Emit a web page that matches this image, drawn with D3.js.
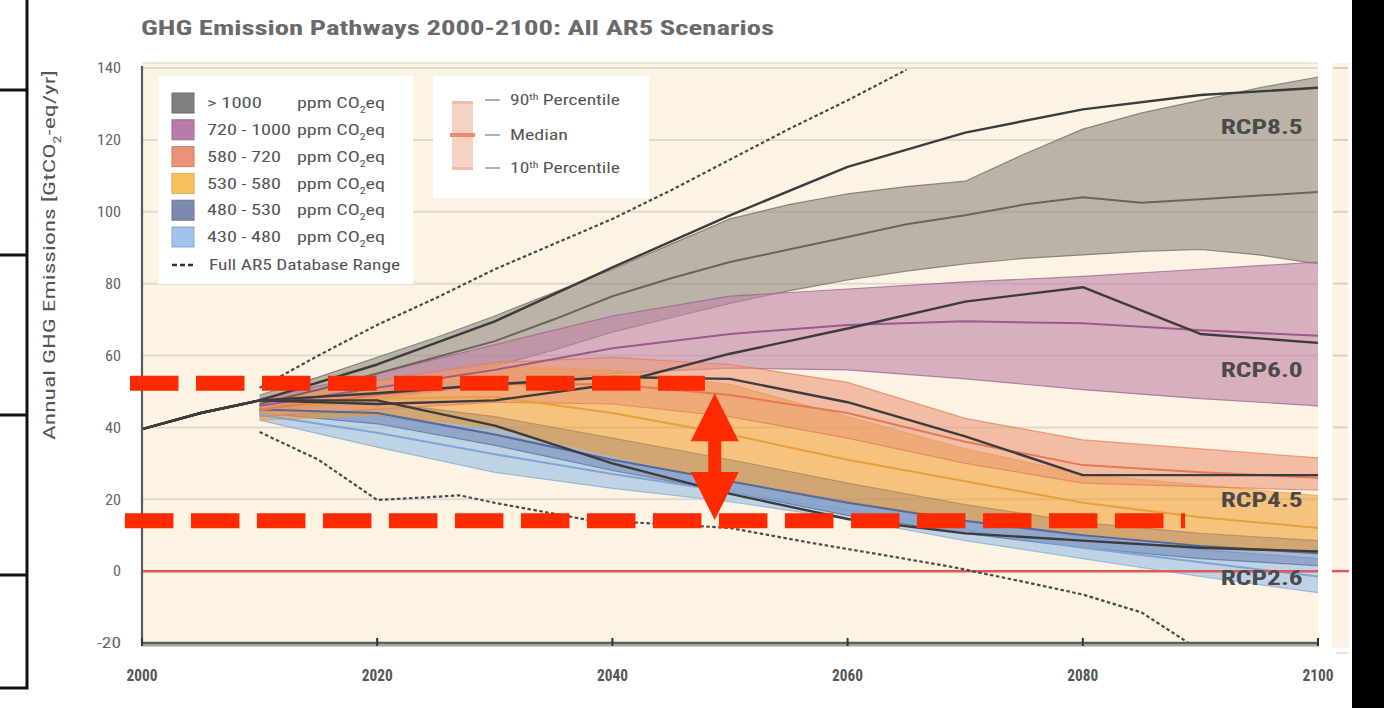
<!DOCTYPE html>
<html><head><meta charset="utf-8">
<script src="https://cdn.jsdelivr.net/npm/d3@7"></script>
<style>
body{margin:0;background:#fff}
svg{display:block}
text{font-family:"Liberation Sans Narrow","Roboto Condensed","Open Sans","Liberation Sans",sans-serif}
</style>
</head><body>
<svg id="c" width="1384" height="708"></svg>
<script>
// ---------- data ----------
const title = "GHG Emission Pathways 2000-2100: All AR5 Scenarios";
const yTicks = [-20, 0, 20, 40, 60, 80, 100, 120, 140];
const xTicks = [2000, 2020, 2040, 2060, 2080, 2100];

const rcpYears = [2000, 2005, 2010, 2020, 2030, 2040, 2050, 2060, 2070, 2080, 2090, 2100];
const rcp85 = [39.5, 44, 47.5, 57.5, 69.5, 84.5, 99, 112.5, 122, 128.5, 132.5, 134.5];
const rcp60 = [39.5, 44, 47.5, 46.5, 47.5, 52, 60.5, 67.5, 75, 79, 66, 63.5];
const rcp45 = [39.5, 44, 47.5, 49.5, 52, 54, 53.5, 47, 37.5, 26.7, 26.7, 26.7];
const rcp26 = [39.5, 44, 47.5, 47.5, 40.5, 30, 21.5, 14.5, 10.5, 8.5, 6.5, 5.5];
const rcpNames = ["RCP8.5", "RCP6.0", "RCP4.5", "RCP2.6"];
const rcpLabelValues = [123.5, 55.9, 19.8, -1.9];

const grayYears = [2010,2015,2020,2025,2030,2035,2040,2045,2050,2055,2060,2065,2070,2075,2080,2085,2090,2095,2100];
const grayP90 = [49,54,59.5,65,71,77.5,84,91,98,102,105,107,108.5,116,123,127.5,131,134.5,137.5];
const grayMed = [46.5,50.5,55,59.5,64,70,76.5,81.5,86,89.5,93,96.5,99,102,104,102.5,103.5,104.5,105.5];
const grayP10 = [44,46.5,49.5,53,57,61.5,66.5,70.5,74.5,78,81,83.5,85.5,87,88,89,89.5,88,85.5];

const decYears = [2010,2020,2030,2040,2050,2060,2070,2080,2090,2100];
const pinkP90 = [48,55,63,71,76.5,78.5,80.5,82,84,86];
const pinkMed = [46,51,56,62,66,68.5,69.5,69,67,65.5];
const pinkP10 = [44,48,52,55,56.5,56,53.5,50.5,48,46];

const salmonP90 = [47.5,53,58,59.5,57.5,52.5,42.5,36.5,34,31.5];
const salmonMed = [45,49,52,52,49,44,36,29.5,27.5,26];
const salmonP10 = [43,45,47,46.5,43,37,30,24.5,23.5,22.5];

const orangeP90 = [47,52,57,56,52,43,34,27,24,21];
const orangeMed = [45,48,48.5,44,38,31,25,19,15,12];
const orangeP10 = [42,43.5,40,32,25,19,14.5,10.5,7.5,5.5];

const slateP90 = [46,47,43,37,31,24.5,18.5,13.5,10.5,8.5];
const slateMed = [45,44,38,31,25,19,14,10,7,5];
const slateP10 = [44,41,35,28,22,15.5,10.5,6.5,3.5,1.5];

const blueP90 = [45,43.5,38,31,25,19.5,14,9.5,6,3.5];
const blueMed = [43.5,38.5,32.5,27,22,17,11.5,6.5,2.5,-1.5];
const blueP10 = [42,34.5,27.5,23,19.3,14.5,8.5,3.5,-1.5,-6];

const dbUpperYears = [2010,2015,2020,2025,2030,2035,2040,2045,2050,2055,2060,2065];
const dbUpper = [51,60,68.5,76,84,91,98,106,114.5,123,131,139.5];
const dbLowerYears = [2010,2015,2020,2024,2027,2030,2035,2038,2045,2050,2057,2063,2069,2075,2080,2085,2089];
const dbLower = [38.7,31,19.8,20.5,21.1,19,16,14.2,13,12,7.8,4.5,1.1,-3,-6.5,-11.5,-20];

const legendRanges = ["> 1000", "720 - 1000", "580 - 720", "530 - 580", "480 - 530", "430 - 480"];
const legendRangeWidths = [55, 84, 74, 74, 74, 74];
const legendSwatch = ["#7f7f7f", "#b97aae", "#ec9276", "#f7c25e", "#7c89b0", "#9fc3ea"];
const bandFill = ["#8d897f", "#c185aa", "#eb9978", "#ee9a2a", "#6a84b4", "#96bee8"];
const bandOpacity = [0.6, 0.62, 0.6, 0.55, 0.55, 0.6];
const bandLine = ["#6a655c", "#9a5a8c", "#e27a58", "#e8a03a", "#56699a", "#7fa6d2"];
const drawOrder = [0, 1, 5, 4, 3, 2];
const pctLabels = ["90", "Median", "10"];

// annotation (red) values
const annoLines = [{v: 52.3, from: 1998.98, to: 2047.87}, {v: 14.0, from: 1998.55, to: 2088.7}];
const annoArrow = {year: 2048.7, top: 49.5, bottom: 14.2};

// ---------- drawing ----------
const svg = d3.select("#c");
const x = d3.scaleLinear().domain([2000, 2100]).range([142, 1318]);
const y = d3.scaleLinear().domain([-20, 140]).range([643, 68]);

// left decorative frame
const deco = svg.append("g").attr("stroke", "#111").attr("stroke-width", 3).attr("fill", "none");
deco.append("path").attr("d", "M27,0 V688 H0");
[90, 255, 415, 575].forEach(t => deco.append("line").attr("x1", 0).attr("x2", 27).attr("y1", t).attr("y2", t));

// title
svg.append("text").attr("x", 141).attr("y", 35).attr("font-size", 21).attr("font-weight", "bold")
  .attr("fill", "#6a6a6a").attr("textLength", 633).attr("lengthAdjust", "spacingAndGlyphs").text(title);

// plot background
svg.append("rect").attr("x", x(2000)).attr("y", 63).attr("width", x(2100) - x(2000)).attr("height", y(-20) - 63)
  .attr("fill", "#fdf3e2");
svg.append("line").attr("x1", x(2000)).attr("x2", x(2100)).attr("y1", 63).attr("y2", 63).attr("stroke", "#ece8e0").attr("stroke-width", 2);

// right strip (neighbour panel) and black block
svg.append("rect").attr("x", 1332).attr("y", 63).attr("width", 17).attr("height", 585).attr("fill", "#fdf3e2");
yTicks.filter(d => d > -20 && d !== 0).forEach(d => svg.append("line").attr("x1", 1333).attr("x2", 1348)
  .attr("y1", y(d)).attr("y2", y(d)).attr("stroke", "#d6d0c6").attr("stroke-width", 2));
svg.append("line").attr("x1", 1332).attr("x2", 1349).attr("y1", y(0)).attr("y2", y(0)).attr("stroke", "#e05a5a").attr("stroke-width", 2.5);
svg.append("line").attr("x1", 1336).attr("x2", 1348).attr("y1", 653).attr("y2", 653).attr("stroke", "#c8c8d0").attr("stroke-width", 1);
svg.append("rect").attr("x", 1352).attr("y", 0).attr("width", 32).attr("height", 708).attr("fill", "#000");

// clip
svg.append("clipPath").attr("id", "pc").append("rect").attr("x", x(2000)).attr("y", 63)
  .attr("width", x(2100) - x(2000)).attr("height", y(-20) - 63);
const plot = svg.append("g").attr("clip-path", "url(#pc)");

// gridlines
plot.selectAll(".grid").data(yTicks.filter(d => d > -20 && d !== 0)).join("line")
  .attr("x1", x(2000)).attr("x2", x(2100)).attr("y1", d => y(d)).attr("y2", d => y(d))
  .attr("stroke", "#e0dace").attr("stroke-width", 2);

// bands
const bands = [
  {years: grayYears, p10: grayP10, med: grayMed, p90: grayP90},
  {years: decYears, p10: pinkP10, med: pinkMed, p90: pinkP90},
  {years: decYears, p10: salmonP10, med: salmonMed, p90: salmonP90},
  {years: decYears, p10: orangeP10, med: orangeMed, p90: orangeP90},
  {years: decYears, p10: slateP10, med: slateMed, p90: slateP90},
  {years: decYears, p10: blueP10, med: blueMed, p90: blueP90}
];
const area = d3.area().x(d => x(d.t)).y0(d => y(d.lo)).y1(d => y(d.hi));
const line = d3.line().x(d => x(d.t)).y(d => y(d.v));
drawOrder.forEach(i => {
  const b = bands[i];
  const pts = b.years.map((t, k) => ({t, lo: b.p10[k], hi: b.p90[k]}));
  plot.append("path").attr("d", area(pts)).attr("fill", bandFill[i]).attr("fill-opacity", bandOpacity[i]);
  ["p10", "p90"].forEach(key => {
    plot.append("path").attr("d", line(b.years.map((t, k) => ({t, v: b[key][k]}))))
      .attr("fill", "none").attr("stroke", bandLine[i]).attr("stroke-opacity", 0.7).attr("stroke-width", 1.2);
  });
});
drawOrder.forEach(i => {
  const b = bands[i];
  plot.append("path").attr("d", line(b.years.map((t, k) => ({t, v: b.med[k]}))))
    .attr("fill", "none").attr("stroke", bandLine[i]).attr("stroke-width", 2);
});

// zero line
plot.append("line").attr("x1", x(2000)).attr("x2", x(2100)).attr("y1", y(0)).attr("y2", y(0))
  .attr("stroke", "#e05a5a").attr("stroke-width", 2.5);

// database range
[[dbUpperYears, dbUpper], [dbLowerYears, dbLower]].forEach(([ys, vs]) => {
  plot.append("path").attr("d", line(ys.map((t, k) => ({t, v: vs[k]}))))
    .attr("fill", "none").attr("stroke", "#4a4a4a").attr("stroke-width", 2.2).attr("stroke-dasharray", "3.5 2.5");
});

// RCP lines
[rcp85, rcp60, rcp45, rcp26].forEach(vs => {
  plot.append("path").attr("d", line(rcpYears.map((t, k) => ({t, v: vs[k]}))))
    .attr("fill", "none").attr("stroke", "#3c3c3c").attr("stroke-width", 2.4).attr("stroke-linejoin", "round");
});

// RCP labels
rcpNames.forEach((n, i) => {
  svg.append("text").attr("x", x(2098.7)).attr("y", y(rcpLabelValues[i])).attr("dy", "0.36em")
    .attr("text-anchor", "end").attr("font-size", 20).attr("font-weight", "bold").attr("fill", "#4a4a4a")
    .attr("textLength", 82).attr("lengthAdjust", "spacingAndGlyphs").text(n);
});

// axes
svg.append("line").attr("x1", x(2000)).attr("x2", x(2000)).attr("y1", 66).attr("y2", y(-20))
  .attr("stroke", "#5a5a5a").attr("stroke-width", 2.2);
svg.append("line").attr("x1", x(2000)).attr("x2", x(2100)).attr("y1", y(-20) + 1).attr("y2", y(-20) + 1)
  .attr("stroke", "#a8a39a").attr("stroke-width", 5);
svg.append("line").attr("x1", x(2000)).attr("x2", x(2100)).attr("y1", y(-20)).attr("y2", y(-20))
  .attr("stroke", "#5c5c5c").attr("stroke-width", 2);
xTicks.forEach(t => svg.append("line").attr("x1", x(t)).attr("x2", x(t)).attr("y1", y(-20) - 5).attr("y2", y(-20) + 3)
  .attr("stroke", "#333").attr("stroke-width", 2));
svg.selectAll(".xl").data(xTicks).join("text").attr("x", d => x(d)).attr("y", 681).attr("text-anchor", "middle")
  .attr("font-size", 17).attr("font-weight", "bold").attr("fill", "#555")
  .attr("textLength", 31).attr("lengthAdjust", "spacingAndGlyphs").text(d => d);
svg.selectAll(".yl").data(yTicks).join("text").attr("x", 121).attr("y", d => y(d)).attr("dy", "0.35em")
  .attr("text-anchor", "end").attr("font-size", 15).attr("fill", "#666")
  .attr("textLength", d => String(d).length * 8).attr("lengthAdjust", "spacingAndGlyphs").text(d => d);

// y title
const yt = svg.append("text").attr("transform", `translate(55,255) rotate(-90)`)
  .attr("text-anchor", "middle").attr("font-size", 16).attr("fill", "#555")
  .attr("textLength", 370).attr("lengthAdjust", "spacingAndGlyphs");
yt.append("tspan").text("Annual GHG Emissions [GtCO");
yt.append("tspan").attr("baseline-shift", "sub").attr("font-size", 10).text("2");
yt.append("tspan").text("-eq/yr]");

// legend 1
const lg = svg.append("g");
lg.append("rect").attr("x", 158).attr("y", 76).attr("width", 255).attr("height", 208).attr("fill", "#fff");
legendRanges.forEach((r, i) => {
  const cy = 103 + i * 26.8;
  lg.append("rect").attr("x", 172).attr("y", cy - 10).attr("width", 22).attr("height", 20)
    .attr("fill", legendSwatch[i]).attr("stroke", d3.color(legendSwatch[i]).darker(0.4)).attr("stroke-width", 1);
  lg.append("text").attr("x", 207).attr("y", cy).attr("dy", "0.35em").attr("font-size", 15).attr("fill", "#555")
    .attr("textLength", legendRangeWidths[i]).attr("lengthAdjust", "spacingAndGlyphs").text(r);
  const t = lg.append("text").attr("x", 297).attr("y", cy).attr("dy", "0.35em").attr("font-size", 15).attr("fill", "#555")
    .attr("textLength", 88).attr("lengthAdjust", "spacingAndGlyphs");
  t.append("tspan").text("ppm CO");
  t.append("tspan").attr("baseline-shift", "sub").attr("font-size", 9).text("2");
  t.append("tspan").text("eq");
});
lg.append("line").attr("x1", 172).attr("x2", 194).attr("y1", 265).attr("y2", 265)
  .attr("stroke", "#333").attr("stroke-width", 2.5).attr("stroke-dasharray", "5 3");
lg.append("text").attr("x", 209).attr("y", 265).attr("dy", "0.35em").attr("font-size", 15).attr("fill", "#555")
  .attr("textLength", 191).attr("lengthAdjust", "spacingAndGlyphs").text("Full AR5 Database Range");

// legend 2
const lg2 = svg.append("g");
lg2.append("rect").attr("x", 433).attr("y", 76).attr("width", 216).attr("height", 122).attr("fill", "#fff");
lg2.append("rect").attr("x", 452).attr("y", 102).attr("width", 21).attr("height", 68).attr("fill", "#f5d2c4");
[102, 168].forEach(v => lg2.append("rect").attr("x", 452).attr("y", v - 1).attr("width", 21).attr("height", 3).attr("fill", "#f0bca8"));
lg2.append("rect").attr("x", 450).attr("y", 133).attr("width", 25).attr("height", 4).attr("fill", "#ec8a6c");
pctLabels.forEach((p, i) => {
  const cy = [100, 135, 168][i];
  lg2.append("line").attr("x1", 485).attr("x2", 500).attr("y1", cy).attr("y2", cy).attr("stroke", "#999").attr("stroke-width", 1.5);
  const t = lg2.append("text").attr("x", 510).attr("y", cy).attr("dy", "0.35em").attr("font-size", 15).attr("fill", "#555")
    .attr("textLength", p === "Median" ? 58 : 110).attr("lengthAdjust", "spacingAndGlyphs");
  if (p === "Median") { t.text(p); }
  else {
    t.append("tspan").text(p);
    t.append("tspan").attr("baseline-shift", "super").attr("font-size", 9).text("th");
    t.append("tspan").text(" Percentile");
  }
});

// red annotations
const red = "#ff2a00";
annoLines.forEach(a => {
  svg.append("line").attr("x1", x(a.from)).attr("x2", x(a.to)).attr("y1", y(a.v)).attr("y2", y(a.v))
    .attr("stroke", red).attr("stroke-width", 15).attr("stroke-dasharray", "48.5 17.5");
});
const xa = x(annoArrow.year), yT = y(annoArrow.top), yB = y(annoArrow.bottom);
const hl = 48, hw = 24, sw = 6.5;
svg.append("path").attr("fill", red).attr("d",
  `M${xa},${yT} L${xa + hw},${yT + hl} L${xa + sw},${yT + hl} L${xa + sw},${yB - hl} L${xa + hw},${yB - hl} L${xa},${yB} ` +
  `L${xa - hw},${yB - hl} L${xa - sw},${yB - hl} L${xa - sw},${yT + hl} L${xa - hw},${yT + hl} Z`);
</script>
</body></html>
